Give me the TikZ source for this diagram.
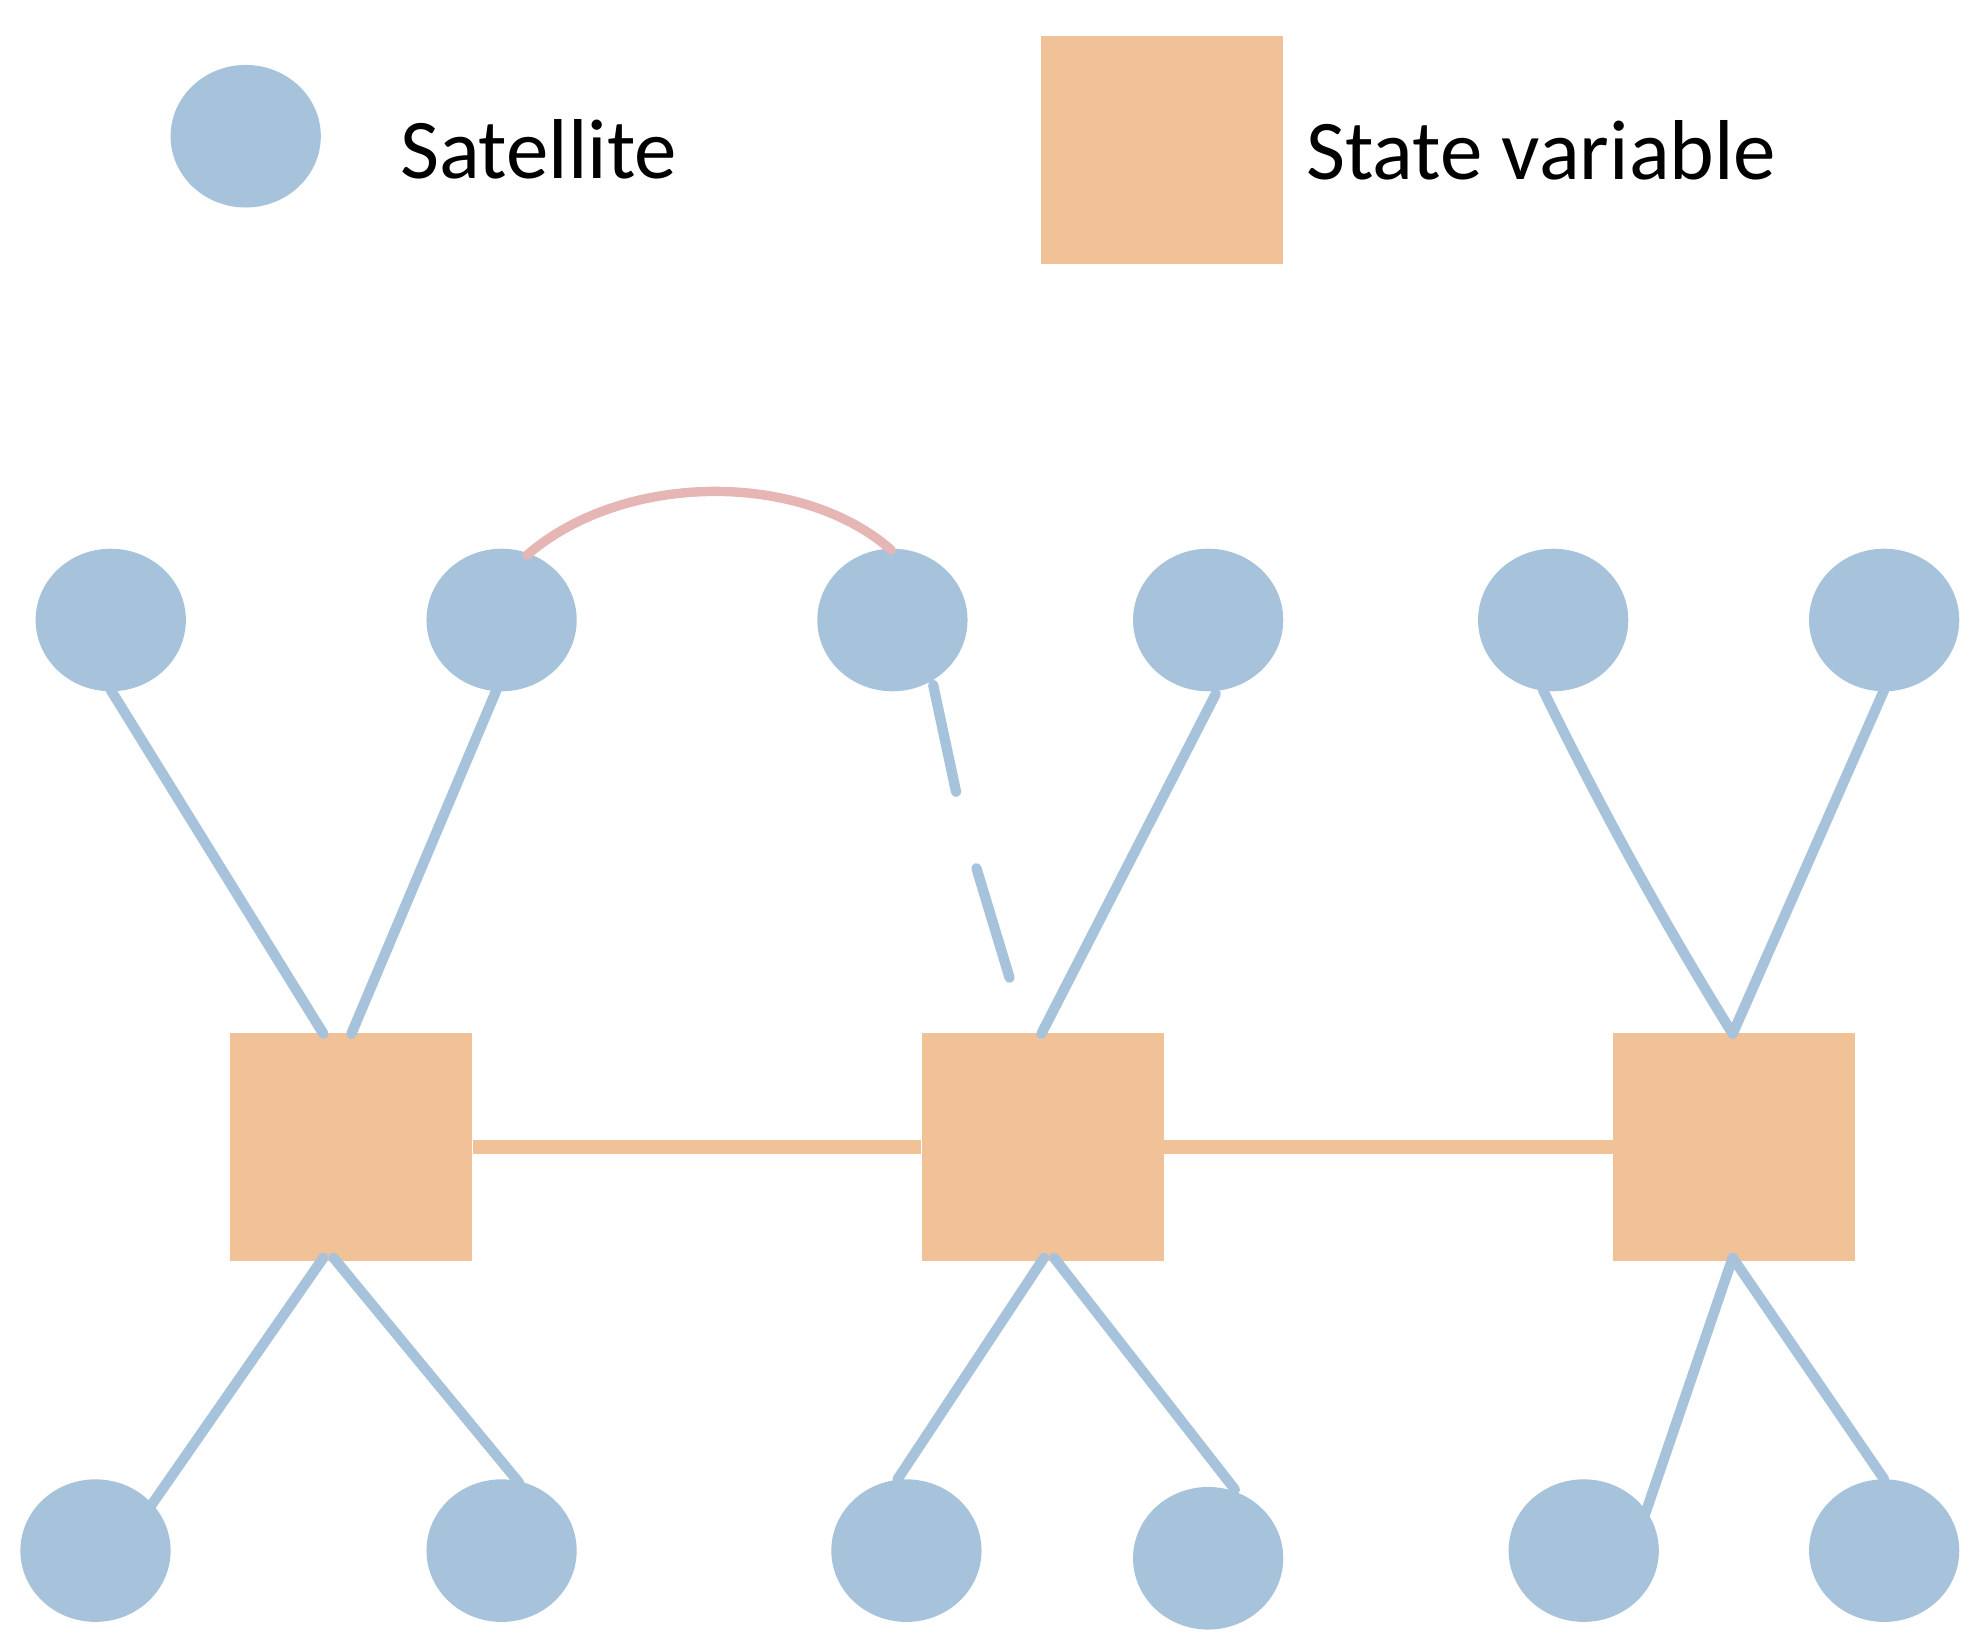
\documentclass[tikz,border=0pt]{standalone}
\usepackage{fontspec}
\setmainfont{Carlito}
\definecolor{sat}{HTML}{A7C3DC}
\definecolor{st}{HTML}{F1C197}
\definecolor{arc}{HTML}{E6B6B4}
\begin{document}
\begin{tikzpicture}[x=0.02cm,y=-0.02cm,
  sat/.style={ellipse,fill=sat,minimum width=118*0.02cm,minimum height=112*0.02cm,inner sep=0},
  st/.style={rectangle,fill=st,minimum width=190*0.02cm,minimum height=179*0.02cm,inner sep=0},
  link/.style={draw=sat,line width=4.6pt,line cap=round},
  hl/.style={draw=st,line width=6.5pt},
  lbl/.style={font=\fontsize{38}{40}\selectfont,anchor=west}]
\useasboundingbox (0,0) rectangle (1560,1296);
\usetikzlibrary{shapes.geometric}
% legend
\node[sat] (ls) at (193,107) {};
\node[lbl] (lst) at (308,117) {Satellite};
\node[st] (lq) at (913,118) {};
\node[lbl] (lqt) at (1020,118) {State variable};
% squares
\node[st] (A) at (276,901) {};
\node[st] (B) at (819,901) {};
\node[st] (C) at (1362,901) {};
\draw[hl] (A.east) -- (B.west);
\draw[hl] (B.east) -- (C.west);
% satellites
\foreach \n/\x/\y in {t1/87/487,t2/394/487,t3/701/487,t4/949/487,t5/1220/487,t6/1480/487,
  b1/75/1218,b2/394/1218,b3/712/1218,b4/949/1224,b5/1244/1218,b6/1480/1218}
  \node[sat] (\n) at (\x,\y) {};
% endpoint coordinates
\coordinate (a1) at (254,812); \coordinate (a2) at (276,812);
\coordinate (a3) at (254,988); \coordinate (a4) at (262,988);
\coordinate (bt) at (818,812); \coordinate (b3c) at (820,988); \coordinate (b4c) at (828,988);
\coordinate (ct) at (1361,812); \coordinate (cb) at (1361,988);
\coordinate (d1) at (751,622); \coordinate (d2) at (767,682); \coordinate (d3) at (793,768);
\draw[link] (87,542) -- (a1);
\draw[link] (390,542) -- (a2);
\draw[link] (733,538) -- (d1);
\draw[link] (d2) -- (d3);
\draw[link] (955,545) -- (bt);
\draw[link] (1212,542) .. controls (1260,640) and (1310,730) .. (ct);
\draw[link] (1480,542) -- (ct);
\draw[link] (a3) -- (117,1185);
\draw[link] (a4) -- (408,1165);
\draw[link] (b3c) -- (705,1162);
\draw[link] (b4c) -- (970,1170);
\draw[link] (cb) -- (1292,1190);
\draw[link] (cb) -- (1480,1162);
% arc
\draw[draw=arc,line width=4.2pt,line cap=round] (414,436) .. controls (490,370) and (630,370) .. (700,432);
\end{tikzpicture}
\end{document}
